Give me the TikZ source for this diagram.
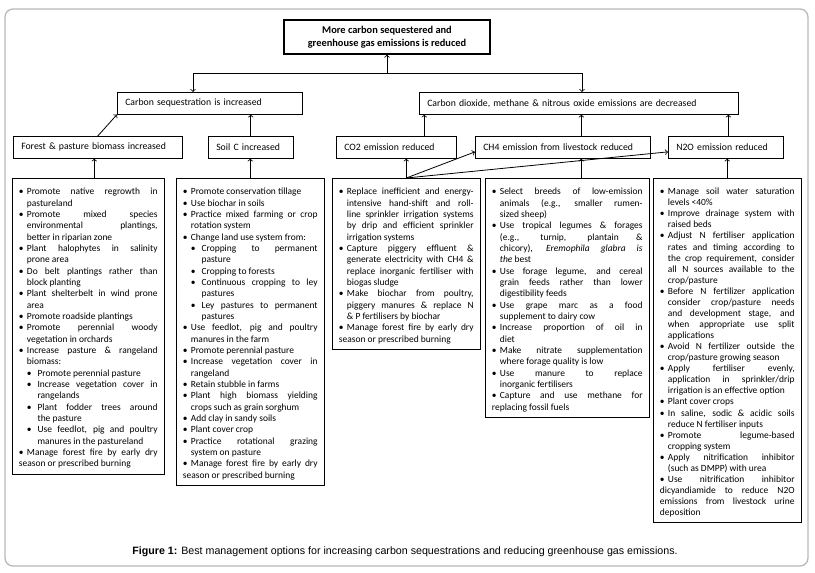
\documentclass[tikz,border=0pt]{standalone}
\usepackage{fontspec}
\setmainfont{Carlito}
\newfontfamily\capfont{Liberation Sans}
\newcommand\itm{\par\hangindent=6pt\hangafter=1\noindent\makebox[6pt][l]{\textbullet}}
\newcommand\subitm{\par\hangindent=14pt\hangafter=1\noindent\hspace*{6pt}\makebox[8pt][l]{\textbullet}}
\tolerance=10000 \hbadness=10000 \hyphenpenalty=10000

\begin{document}
\begin{tikzpicture}[
						x=0.75pt, y=-0.75pt,
						frame/.style = {draw=gray!55, line width=1pt, rounded corners=6pt},
						top/.style = {draw, line width=1pt, minimum width=154.5pt, minimum height=25.5pt, align=center, font=\fontsize{7.8}{10}\selectfont\bfseries},
						lbl/.style = {draw, anchor=north west, inner xsep=6pt, inner ysep=0pt, minimum height=16.5pt, align=left, font=\fontsize{7.3}{9}\selectfont},
						col/.style = {draw, anchor=north west, inner xsep=5pt, inner ysep=4pt, align=justify, font=\fontsize{7.1}{8.5}\selectfont},
						arr/.style = {->, line width=0.6pt}
					]
\useasboundingbox (0,0) rectangle (815,572);
\draw[frame] (5,9) rectangle (808,566);

\node[top] (t) at (387,37) {More carbon sequestered and\\greenhouse gas emissions is reduced};
\node[lbl, text width=126.75pt] (cs) at (117,92) {Carbon sequestration is increased};
\node[lbl, text width=227.25pt] (cd) at (419,92) {Carbon dioxide, methane \& nitrous oxide emissions are decreased};
\node[lbl, text width=114.75pt] (fp) at (13,136) {Forest \& pasture biomass increased};
\node[lbl, text width=51.75pt] (sc) at (208,136) {Soil C increased};
\node[lbl, text width=78pt] (co2) at (336,136) {CO2 emission reduced};
\node[lbl, text width=119.25pt] (ch4) at (475,136) {CH4 emission from livestock reduced};
\node[lbl, text width=74.25pt] (n2o) at (668,136) {N2O emission reduced};

\node[col, text width=104pt] (c1) at (12,178) {%
\itm Promote native regrowth in\linebreak pastureland
\itm Promote mixed species\linebreak environmental plantings,\linebreak better in riparian zone
\itm Plant halophytes in salinity\linebreak prone area
\itm Do belt plantings rather than\linebreak block planting
\itm Plant shelterbelt in wind prone\linebreak area
\itm Promote roadside plantings
\itm Promote perennial woody\linebreak vegetation in orchards
\itm Increase pasture \& rangeland\linebreak biomass:
\subitm Promote perennial pasture
\subitm Increase vegetation cover in\linebreak rangelands
\subitm Plant fodder trees around\linebreak the pasture
\subitm Use feedlot, pig and poultry\linebreak manures in the pastureland
\itm Manage forest fire by early dry\linebreak season or prescribed burning};

\node[col, text width=101pt] (c2) at (176,178) {%
\itm Promote conservation tillage
\itm Use biochar in soils
\itm Practice mixed farming or crop\linebreak rotation system
\itm Change land use system from:
\subitm Cropping to permanent\linebreak pasture
\subitm Cropping to forests
\subitm Continuous cropping to ley\linebreak pastures
\subitm Ley pastures to permanent\linebreak pastures
\itm Use feedlot, pig and poultry\linebreak manures in the farm
\itm Promote perennial pasture
\itm Increase vegetation cover in\linebreak rangeland
\itm Retain stubble in farms
\itm Plant high biomass yielding\linebreak crops such as grain sorghum
\itm Add clay in sandy soils
\itm Plant cover crop
\itm Practice rotational grazing\linebreak system on pasture
\itm Manage forest fire by early dry\linebreak season or prescribed burning};

\node[col, text width=101pt] (c3) at (332,178) {%
\itm Replace inefficient and energy-\linebreak intensive hand-shift and roll-\linebreak line sprinkler irrigation systems\linebreak by drip and efficient sprinkler\linebreak irrigation systems
\itm Capture piggery effluent \&\linebreak generate electricity with CH4 \&\linebreak replace inorganic fertiliser with\linebreak biogas sludge
\itm Make biochar from poultry,\linebreak piggery manures \& replace N\linebreak \& P fertilisers by biochar
\itm Manage forest fire by early dry\linebreak season or prescribed burning};

\node[col, text width=113pt] (c4) at (485,178) {%
\itm Select breeds of low-emission\linebreak animals (e.g., smaller rumen-\linebreak sized sheep)
\itm Use tropical legumes \& forages\linebreak (e.g., turnip, plantain \&\linebreak chicory), \textit{Eremophila glabra is\linebreak the} best
\itm Use forage legume, and cereal\linebreak grain feeds rather than lower\linebreak digestibility feeds
\itm Use grape marc as a food\linebreak supplement to dairy cow
\itm Increase proportion of oil in\linebreak diet
\itm Make nitrate supplementation\linebreak where forage quality is low
\itm Use manure to replace\linebreak inorganic fertilisers
\itm Capture and use methane for\linebreak replacing fossil fuels};

\node[col, text width=101pt, font=\fontsize{7.1}{8.3}\selectfont] (c5) at (653,178) {%
\itm Manage soil water saturation\linebreak levels <40\%
\itm Improve drainage system with\linebreak raised beds
\itm Adjust N fertiliser application\linebreak rates and timing according to\linebreak the crop requirement, consider\linebreak all N sources available to the\linebreak crop/pasture
\itm Before N fertilizer application\linebreak consider crop/pasture needs\linebreak and development stage, and\linebreak when appropriate use split\linebreak applications
\itm Avoid N fertilizer outside the\linebreak crop/pasture growing season
\itm Apply fertiliser evenly,\linebreak application in sprinkler/drip\linebreak irrigation is an effective option
\itm Plant cover crops
\itm In saline, sodic \& acidic soils\linebreak reduce N fertiliser inputs
\itm Promote legume-based\linebreak cropping system
\itm Apply nitrification inhibitor\linebreak (such as DMPP) with urea
\itm Use nitrification inhibitor\linebreak dicyandiamide to reduce N2O\linebreak emissions from livestock urine\linebreak deposition};

\node[font=\capfont\fontsize{8}{9}\selectfont] (cap) at (405,552) {\textbf{Figure 1:} Best management options for increasing carbon sequestrations and reducing greenhouse gas emissions.};

\coordinate (jl) at (193,73);
\coordinate (jm) at (387,73);
\coordinate (jr) at (582,73);

\draw[line width=0.6pt] (jl) -- (jr);
\draw[arr] (jm) -- (t.south);
\draw[arr] (jl) -- (jl |- cs.north);
\draw[arr] (jr) -- (jr |- cd.north);
\draw[arr] (fp.north) -- (cs.south west);
\draw[arr] (sc.north) -- (sc.north |- cs.south);
\draw[arr] ([xshift=21pt]co2.north) -- ([xshift=21pt]co2.north |- cd.south);
\draw[arr] ([xshift=14pt]ch4.north) -- ([xshift=14pt]ch4.north |- cd.south);
\draw[arr] ([xshift=2pt]n2o.north) -- ([xshift=2pt]n2o.north |- cd.south);
\draw[arr] ([xshift=4.5pt]c1.north) -- ([xshift=4.5pt]c1.north |- fp.south);
\draw[arr] (c2.north) -- (c2.north |- sc.south);
\draw[arr] (c3.north) -- (c3.north |- co2.south);
\draw[arr] (c3.north) -- ([yshift=5pt]ch4.south west);
\draw[arr] (c3.north) -- ([yshift=5pt]n2o.south west);
\draw[arr] ([xshift=10.5pt]c4.north) -- ([xshift=10.5pt]c4.north |- ch4.south);
\draw[arr] (c5.north) -- (c5.north |- n2o.south);
\end{tikzpicture}
\end{document}
